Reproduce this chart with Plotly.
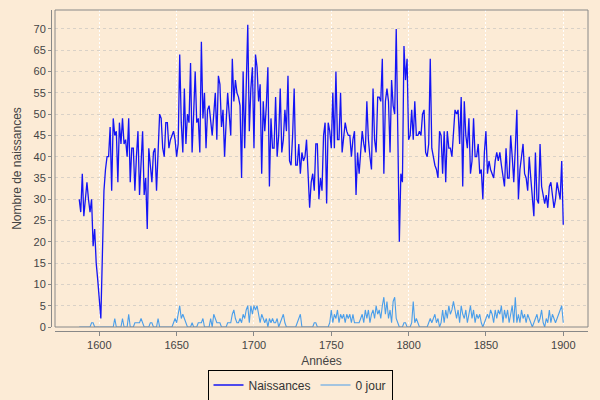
import plotly.graph_objects as go

start_year = 1587
end_year = 1900
years = list(range(start_year, end_year + 1))

naissances = [
    # 1587-1599
    30, 27, 36, 26, 30, 34, 30, 27, 30, 19, 23, 15, 11,
    # 1600-1609
    7, 2, 17, 32, 37, 40, 40, 47, 32, 49,
    # 1610-1619
    45, 46, 34, 48, 43, 49, 43, 44, 40, 49,
    # 1620-1629
    34, 42, 42, 32, 40, 46, 31, 40, 46, 31,
    # 1630-1639
    35, 23, 42, 38, 34, 41, 42, 32, 42, 50,
    # 1640-1649
    49, 42, 40, 48, 48, 42, 44, 45, 46, 44,
    # 1650-1659
    40, 43, 64, 48, 41, 56, 43, 50, 48, 62,
    # 1660-1669
    41, 50, 60, 48, 49, 41, 67, 49, 55, 42,
    # 1670-1679
    51, 52, 48, 45, 50, 55, 44, 59, 57, 47,
    # 1680-1689
    51, 40, 48, 55, 50, 45, 63, 53, 58, 55,
    # 1690-1699
    54, 52, 35, 60, 42, 55, 71, 46, 56, 61,
    # 1700-1709
    42, 64, 61, 53, 57, 36, 53, 46, 52, 61,
    # 1710-1719
    33, 49, 42, 42, 54, 40, 45, 56, 41, 44,
    # 1720-1729
    51, 46, 59, 39, 38, 45, 56, 38, 38, 43,
    # 1730-1739
    36, 41, 39, 40, 44, 36, 28, 34, 36, 32,
    # 1740-1749
    43, 43, 30, 35, 32, 45, 48, 29, 48, 46,
    # 1750-1759
    42, 55, 42, 60, 44, 44, 55, 41, 45, 48,
    # 1760-1769
    46, 45, 45, 40, 44, 46, 31, 41, 36, 41,
    # 1770-1779
    46, 43, 41, 53, 44, 40, 37, 56, 44, 41,
    # 1780-1789
    54, 54, 53, 63, 36, 53, 56, 53, 41, 58,
    # 1790-1799
    52, 50, 70, 46, 20, 36, 34, 66, 58, 63,
    # 1800-1809
    44, 45, 51, 44, 53, 45, 45, 46, 45, 50,
    # 1810-1819
    51, 41, 40, 43, 63, 42, 40, 38, 37, 35,
    # 1820-1829
    46, 45, 36, 46, 34, 46, 42, 42, 40, 47,
    # 1830-1839
    51, 50, 51, 43, 54, 33, 53, 45, 42, 49,
    # 1840-1849
    36, 39, 49, 40, 40, 43, 36, 37, 30, 41,
    # 1850-1859
    46, 36, 39, 37, 36, 35, 39, 41, 39, 41,
    # 1860-1869
    38, 35, 33, 42, 35, 35, 45, 40, 34, 42,
    # 1870-1879
    51, 30, 37, 40, 43, 36, 35, 32, 40, 35,
    # 1880-1889
    31, 26, 41, 30, 29, 43, 33, 31, 29, 31,
    # 1890-1899
    28, 33, 34, 31, 28, 30, 34, 32, 30, 39,
    # 1900
    24,
]

zero_jour = [
    # 1587-1599
    0, 0, 0, 0, 0, 0, 0, 0, 1, 1, 0, 0, 0,
    # 1600-1609
    0, 0, 0, 0, 0, 0, 0, 0, 0, 0,
    # 1610-1619
    2, 0, 0, 0, 0, 2, 0, 0, 0, 3,
    # 1620-1629
    0, 0, 0, 1, 1, 1, 1, 2, 1, 0,
    # 1630-1639
    0, 0, 0, 1, 1, 0, 0, 0, 2, 0,
    # 1640-1649
    0, 0, 0, 0, 0, 0, 0, 0, 1, 2,
    # 1650-1659
    1, 3, 5, 2, 3, 2, 1, 0, 0, 0,
    # 1660-1669
    1, 0, 0, 0, 1, 1, 1, 2, 0, 0,
    # 1670-1679
    0, 0, 2, 0, 3, 2, 1, 1, 1, 0,
    # 1680-1689
    0, 0, 0, 1, 1, 1, 3, 4, 2, 1,
    # 1690-1699
    1, 2, 1, 3, 2, 4, 5, 1, 5, 3,
    # 1700-1709
    5, 4, 5, 3, 1, 3, 2, 1, 2, 0,
    # 1710-1719
    2, 1, 2, 1, 1, 2, 0, 1, 2, 3,
    # 1720-1729
    1, 0, 0, 0, 0, 0, 0, 0, 1, 2,
    # 1730-1739
    3, 0, 0, 0, 0, 0, 0, 0, 0, 1,
    # 1740-1749
    1, 0, 0, 0, 0, 0, 0, 0, 0, 1,
    # 1750-1759
    4, 1, 3, 2, 4, 1, 3, 2, 3, 1,
    # 1760-1769
    3, 2, 3, 1, 3, 1, 1, 1, 1, 2,
    # 1770-1779
    3, 1, 4, 2, 4, 1, 3, 4, 2, 5,
    # 1780-1789
    3, 4, 2, 5, 7, 3, 6, 2, 4, 1,
    # 1790-1799
    6, 7, 2, 1, 0, 0, 0, 1, 1, 0,
    # 1800-1809
    0, 0, 1, 6, 1, 2, 1, 0, 0, 0,
    # 1810-1819
    0, 0, 0, 1, 2, 1, 2, 3, 1, 2,
    # 1820-1829
    0, 1, 4, 1, 4, 2, 5, 3, 4, 6,
    # 1830-1839
    4, 2, 4, 1, 5, 3, 2, 4, 1, 3,
    # 1840-1849
    5, 2, 4, 1, 3, 2, 3, 1, 0, 1,
    # 1850-1859
    2, 3, 2, 4, 3, 1, 4, 2, 4, 3,
    # 1860-1869
    5, 1, 4, 2, 4, 1, 3, 5, 1, 7,
    # 1870-1879
    1, 3, 1, 4, 2, 3, 1, 3, 2, 1,
    # 1880-1889
    0, 1, 2, 3, 1, 2, 4, 1, 0, 2,
    # 1890-1899
    1, 4, 1, 3, 2, 1, 2, 3, 4, 5,
    # 1900
    1,
]

x_ticks = [1600, 1650, 1700, 1750, 1800, 1850, 1900]
y_ticks = list(range(0, 75, 5))

BG = "#FCEBD6"
FONT = "Liberation Sans, Arial, sans-serif"
TXT = "#444444"

fig = go.Figure()
fig.add_trace(go.Scatter(
    x=years, y=naissances, mode="lines", name="Naissances",
    line=dict(color="#1414F5", width=1.3),
))
fig.add_trace(go.Scatter(
    x=years, y=zero_jour, mode="lines", name="0 jour",
    line=dict(color="#4A9EEA", width=1.1),
))

W, H = 600, 400
ml, mr, mt, mb = 51, 12, 10, 69
pw = W - ml - mr
ph = H - mt - mb

fig.update_layout(
    width=W, height=H,
    margin=dict(l=ml, r=mr, t=mt, b=mb, autoexpand=False),
    paper_bgcolor=BG, plot_bgcolor=BG,
    font=dict(family=FONT, size=11, color=TXT),
    showlegend=True,
    legend=dict(
        orientation="h", x=0.5, xanchor="center", xref="container",
        y=1 - 385 / H, yanchor="middle", yref="container",
        bgcolor=BG, bordercolor="#000000", borderwidth=1,
        font=dict(family=FONT, size=12, color="#333333"),
        itemwidth=30, tracegroupgap=0,
    ),
    xaxis=dict(
        domain=[4 / pw, 1], anchor="free", position=0,
        range=[1571.35, 1916], automargin=False,
        tickmode="array", tickvals=x_ticks,
        ticks="outside", ticklen=4, tickcolor="#888888",
        showline=True, linecolor="#888888", linewidth=1,
        showgrid=True, gridcolor="#FFFFFF", griddash="2px,2px", gridwidth=1,
        zeroline=False,
        title=dict(text="Années", font=dict(family=FONT, size=12, color=TXT), standoff=6),
        tickfont=dict(family=FONT, size=11, color=TXT),
    ),
    yaxis=dict(
        domain=[4 / ph, 1], anchor="free", position=0,
        range=[0, 74.46], automargin=False,
        tickmode="array", tickvals=y_ticks,
        ticks="outside", ticklen=3, tickcolor="#888888",
        showline=True, linecolor="#888888", linewidth=1,
        showgrid=True, gridcolor="#D9D1C7", griddash="3px,3px", gridwidth=1,
        zeroline=False,
        title=dict(text="Nombre de naissances", font=dict(family=FONT, size=12, color=TXT), standoff=8),
        tickfont=dict(family=FONT, size=11, color=TXT),
    ),
    shapes=[dict(
        type="rect", xref="x domain", yref="y domain",
        x0=0, x1=1, y0=0, y1=1,
        line=dict(color="#888888", width=1), layer="above",
        fillcolor="rgba(0,0,0,0)",
    )],
)

fig.write_html(
    "out.html",
    config={"displayModeBar": False},
    post_script="document.body.style.margin='0';document.body.style.background='" + BG + "';",
)
